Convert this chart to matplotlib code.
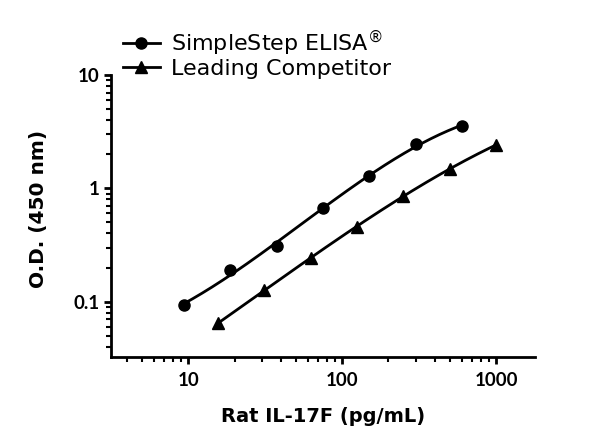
import numpy as np
import matplotlib
matplotlib.use('Agg')
import matplotlib.pyplot as plt
from matplotlib.ticker import LogLocator, NullFormatter, FixedLocator, FixedFormatter

# Data
simplestep_conc = [9.375, 18.75, 37.5, 75, 150, 300, 600]
simplestep_od = [0.093, 0.189, 0.310, 0.667, 1.28, 2.45, 3.53]
competitor_conc = [15.625, 31.25, 62.5, 125, 250, 500, 1000]
competitor_od = [0.0645, 0.127, 0.244, 0.459, 0.856, 1.49, 2.41]

x_ticks = [10, 100, 1000]
x_tick_labels = ['10', '100', '1000']
y_ticks = [0.1, 1, 10]
y_tick_labels = ['0.1', '1', '10']

TICK_FONT = 'Lato'
TEXT_FONT = 'DejaVu Sans'


def fit_curve(x, y, n=200):
    # smooth standard curve: cubic fit in log-log space
    lx, ly = np.log10(x), np.log10(y)
    coefs = np.polyfit(lx, ly, 3)
    xs = np.linspace(lx.min(), lx.max(), n)
    return 10 ** xs, 10 ** np.polyval(coefs, xs)


fig = plt.figure(figsize=(6, 4.44), dpi=100)
ax = fig.add_axes([110.7 / 600, 1 - 357 / 444, (535 - 110.7) / 600, (357 - 75) / 444])

for conc, od, marker, label in [
    (simplestep_conc, simplestep_od, 'o', r'SimpleStep ELISA$^{\circledR}$'),
    (competitor_conc, competitor_od, '^', 'Leading Competitor'),
]:
    cx, cy = fit_curve(np.array(conc), np.array(od))
    ax.plot(cx, cy, color='black', lw=2, zorder=2)
    ax.plot(conc, od, linestyle='none', marker=marker, color='black', ms=8, zorder=3)
    # legend proxy
    ax.plot([], [], color='black', lw=2, marker=marker, ms=8, label=label)

ax.set_xscale('log')
ax.set_yscale('log')
ax.set_xlim(3.13, 1792)
ax.set_ylim(10 ** (1 - (357 - 75) / 113.35), 10)

ax.xaxis.set_major_locator(FixedLocator(x_ticks))
ax.xaxis.set_major_formatter(FixedFormatter(x_tick_labels))
ax.yaxis.set_major_locator(FixedLocator(y_ticks))
ax.yaxis.set_major_formatter(FixedFormatter(y_tick_labels))
ax.xaxis.set_minor_locator(LogLocator(base=10, subs=np.arange(2, 10)))
ax.yaxis.set_minor_locator(LogLocator(base=10, subs=np.arange(2, 10)))
ax.xaxis.set_minor_formatter(NullFormatter())
ax.yaxis.set_minor_formatter(NullFormatter())

for side in ['top', 'right']:
    ax.spines[side].set_visible(False)
for side in ['left', 'bottom']:
    ax.spines[side].set_linewidth(2)

ax.tick_params(which='major', length=5, width=2, direction='out')
ax.tick_params(which='minor', length=3.5, width=1.5, direction='out')
ax.tick_params(axis='x', which='major', pad=6)
ax.tick_params(axis='y', which='major', pad=3)
for lbl in ax.get_xticklabels() + ax.get_yticklabels():
    lbl.set_fontfamily(TICK_FONT)
    lbl.set_fontweight('bold')
    lbl.set_fontsize(13.5)

ax.set_xlabel('Rat IL-17F (pg/mL)', fontfamily=TEXT_FONT, fontweight='bold', fontsize=14, labelpad=13)
ax.set_ylabel('O.D. (450 nm)', fontfamily=TEXT_FONT, fontweight='bold', fontsize=14.5)
ax.yaxis.set_label_coords((48 - 110.7) / 424.3, (357 - 209) / 282)

leg = fig.legend(loc='upper left', bbox_to_anchor=(114 / 600, 1 - 19 / 444), frameon=False,
                 prop={'family': TEXT_FONT, 'size': 16}, handlelength=1.65, handletextpad=0.5,
                 labelspacing=0.05, borderaxespad=0)

fig.savefig('out.png', dpi=100)
